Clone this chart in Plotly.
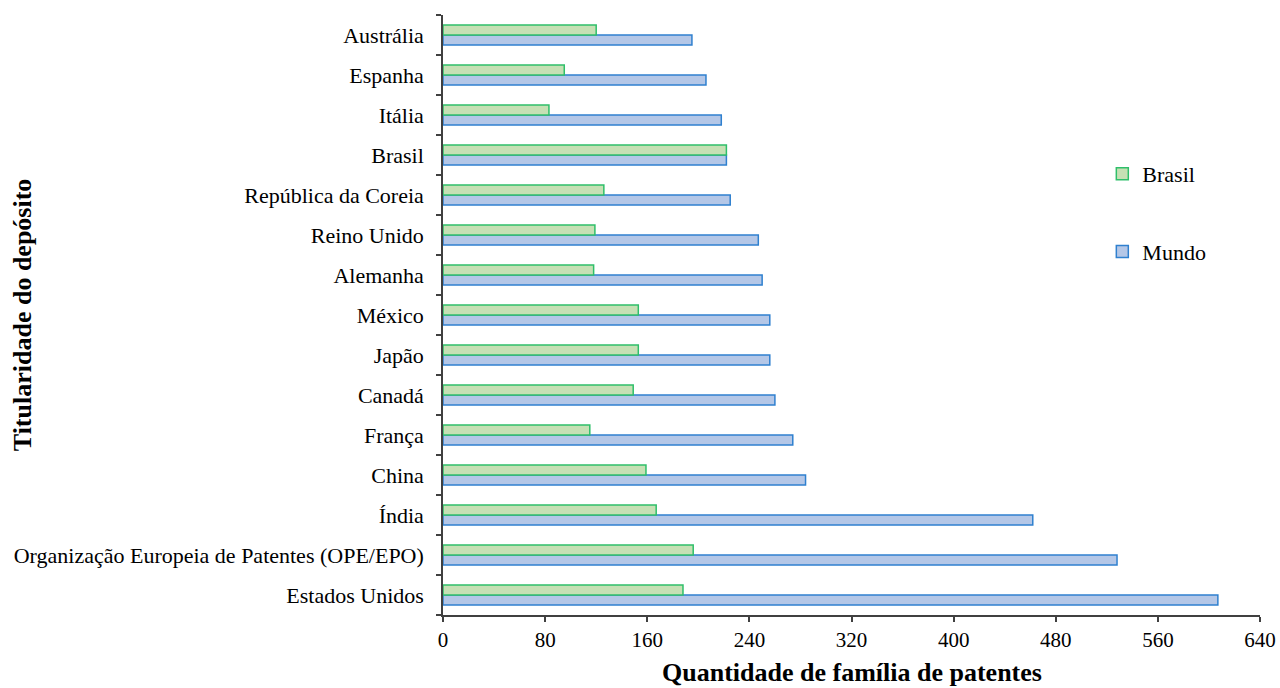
import plotly.graph_objects as go

# Categories listed bottom to top
paises = [
    "Estados Unidos",
    "Organização Europeia de Patentes (OPE/EPO)",
    "Índia",
    "China",
    "França",
    "Canadá",
    "Japão",
    "México",
    "Alemanha",
    "Reino Unido",
    "República da Coreia",
    "Brasil",
    "Itália",
    "Espanha",
    "Austrália",
]
brasil = [188, 196, 167, 159, 115, 149, 153, 153, 118, 119, 126, 222, 83, 95, 120]
mundo = [607, 528, 462, 284, 274, 260, 256, 256, 250, 247, 225, 222, 218, 206, 195]

x_ticks = [0, 80, 160, 240, 320, 400, 480, 560, 640]

serif = "Liberation Serif, Times New Roman, serif"

fig = go.Figure()
fig.add_trace(go.Bar(
    y=paises, x=mundo, name="Mundo", orientation="h",
    marker=dict(color="#b4c7e7", line=dict(color="#2f80cf", width=1.5)),
    legendgroup="m", legendrank=2,
))
fig.add_trace(go.Bar(
    y=paises, x=brasil, name="Brasil", orientation="h",
    marker=dict(color="#c6e0b4", line=dict(color="#2fbf6a", width=1.5)),
    legendgroup="b", legendrank=1,
))

fig.update_layout(
    width=1280, height=688,
    margin=dict(l=443, r=20, t=15, b=73, autoexpand=False),
    barmode="group", bargap=0.5, bargroupgap=0,
    plot_bgcolor="white", paper_bgcolor="white",
    font=dict(family=serif, size=22, color="#000000"),
    legend=dict(
        x=0.807, y=0.770, xanchor="left", yanchor="top",
        traceorder="grouped", tracegroupgap=46,
        font=dict(family=serif, size=22),
        bgcolor="rgba(0,0,0,0)",
    ),
    xaxis=dict(
        range=[0, 640], tickvals=x_ticks, ticktext=[str(v) for v in x_ticks],
        showgrid=False, zeroline=False,
        showline=True, linecolor="#404040", linewidth=1.5,
        ticks="outside", ticklen=5, tickcolor="#404040", tickwidth=1.5,
        tickfont=dict(family=serif, size=21),
        automargin=False,
    ),
    yaxis=dict(
        showgrid=False, zeroline=False,
        showline=True, linecolor="#404040", linewidth=1.5,
        ticks="outside", ticklen=5, tickcolor="#404040", tickwidth=1.5,
        tickson="boundaries", ticklabelstandoff=13,
        tickfont=dict(family=serif, size=22),
        automargin=False,
    ),
    annotations=[
        dict(
            text="<b>Quantidade de família de patentes</b>",
            xref="paper", yref="paper", x=0.5, y=-0.095,
            xanchor="center", yanchor="middle", showarrow=False,
            font=dict(family=serif, size=26),
        ),
        dict(
            text="<b>Titularidade do depósito</b>",
            xref="paper", yref="paper", x=-0.515, y=0.5,
            xanchor="center", yanchor="middle", showarrow=False,
            textangle=-90, font=dict(family=serif, size=26),
        ),
    ],
)

fig.write_html("out.html")
